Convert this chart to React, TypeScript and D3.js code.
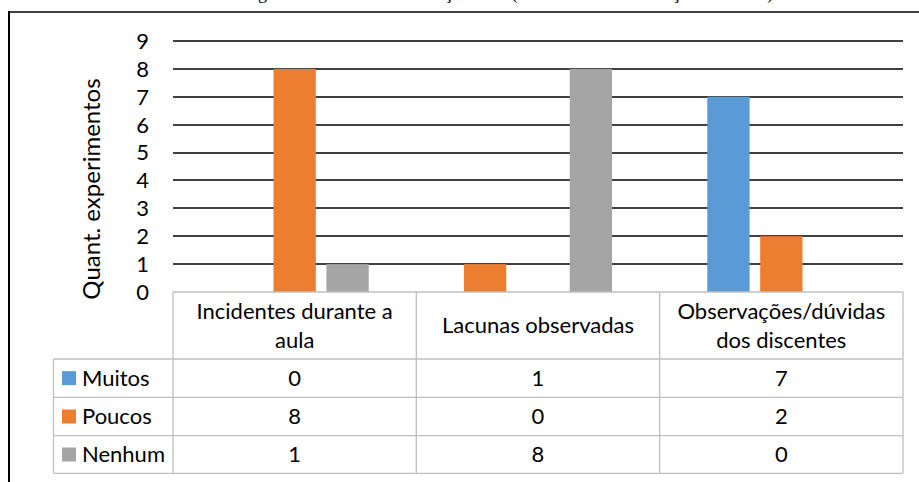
import React from "react";
import * as d3 from "d3";

const categories = ["Incidentes durante a aula", "Lacunas observadas", "Observações/dúvidas dos discentes"];
const categoryLines = [["Incidentes durante a", "aula"], ["Lacunas observadas"], ["Observações/dúvidas", "dos discentes"]];
const seriesNames = ["Muitos", "Poucos", "Nenhum"];
const muitos = [0, 1, 7];
const poucos = [8, 0, 2];
const nenhum = [1, 8, 0];
const yTicks = [0, 1, 2, 3, 4, 5, 6, 7, 8, 9];
const colors = ["#5B9BD5", "#ED7D31", "#A5A5A5"];
// individual data point drawn with a different colour in the original (Muitos / Lacunas observadas)
const pointColorOverrides = [{ series: "Muitos", category: "Lacunas observadas", color: "#ED7D31" }];
const titleText = "Figura 7 – Análise da avaliação final (resultados da observação das aulas)";

const FONT = "Lato, 'Open Sans', sans-serif";

export default function App() {
  const W = 919, H = 482;
  const plotL = 173, plotR = 903, y0 = 292, y9 = 41;
  const y = d3.scaleLinear().domain([0, 9]).range([y0, y9]);
  const x0 = d3.scaleBand().domain(categories).range([plotL, plotR]);
  const x1 = d3.scaleBand().domain(seriesNames).range([0, x0.bandwidth()]).paddingInner(0.2).paddingOuter(0.9);
  const series = [muitos, poucos, nenhum];

  const headerBottom = 359;
  const rowBounds = [359, 397.3, 435.7, 473.3];
  const legendL = 53.5;
  const grey = "#BFBFBF";
  const fs = 22;

  const colorFor = (s: string, c: string, si: number) => {
    const o = pointColorOverrides.find(p => p.series === s && p.category === c);
    return o ? o.color : colors[si];
  };

  return (
    <svg width={W} height={H} style={{ position: "absolute", left: 0, top: 0, background: "#fff" }}>
      <rect x={0} y={0} width={W} height={H} fill="#fff" />
      <text x={243} y={-1} fontFamily="'Liberation Serif', serif" fontSize={18} fill="#000">{titleText}</text>
      {/* outer frame */}
      <line x1={8} x2={W} y1={12} y2={12} stroke="#000" strokeWidth={1.6} />
      <line x1={9} x2={9} y1={11.2} y2={H} stroke="#000" strokeWidth={2} />

      {/* gridlines */}
      {yTicks.filter(t => t > 0).map(t => (
        <line key={t} x1={plotL} x2={plotR} y1={Math.round(y(t))} y2={Math.round(y(t))} stroke="#000" strokeWidth={1.6} />
      ))}
      {/* tick labels */}
      {yTicks.map(t => (
        <text key={t} x={149} y={y(t)} dy="0.36em" textAnchor="end" fontFamily={FONT} fontSize={fs} fill="#000">{t}</text>
      ))}
      <text transform={`translate(100,189) rotate(-90)`} textAnchor="middle" fontFamily={FONT} fontSize={24} fill="#000">Quant. experimentos</text>

      {/* bars */}
      {categories.map((c, ci) => (
        <g key={c}>
          {seriesNames.map((s, si) => {
            const v = series[si][ci];
            if (v <= 0) return null;
            return <rect key={s} x={(x0(c) as number) + (x1(s) as number)} y={y(v)} width={x1.bandwidth()} height={y(0) - y(v)} fill={colorFor(s, c, si)} />;
          })}
        </g>
      ))}

      {/* data table */}
      <g stroke={grey} strokeWidth={1.3} fill="none">
        <line x1={plotL} x2={plotR} y1={y0} y2={y0} />
        <line x1={legendL} x2={plotR} y1={headerBottom} y2={headerBottom} />
        {rowBounds.slice(1).map((b, i) => <line key={i} x1={legendL} x2={plotR} y1={b} y2={b} />)}
        <line x1={legendL} x2={legendL} y1={headerBottom} y2={rowBounds[3]} />
        {categories.map(c => <line key={c} x1={x0(c)} x2={x0(c)} y1={y0} y2={rowBounds[3]} />)}
        <line x1={plotR} x2={plotR} y1={y0} y2={rowBounds[3]} />
      </g>
      {categories.map((c, ci) => {
        const cx = (x0(c) as number) + x0.bandwidth() / 2;
        const lines = categoryLines[ci];
        const mid = (y0 + headerBottom) / 2;
        return lines.map((ln, li) => (
          <text key={c + li} x={cx} y={mid + (li - (lines.length - 1) / 2) * 29} dy="0.35em" textAnchor="middle" fontFamily={FONT} fontSize={fs} fill="#000">{ln}</text>
        ));
      })}
      {seriesNames.map((s, si) => {
        const cy = (rowBounds[si] + rowBounds[si + 1]) / 2;
        return (
          <g key={s}>
            <rect x={62} y={cy - 7} width={14} height={14} fill={colors[si]} />
            <text x={82} y={cy} dy="0.35em" fontFamily={FONT} fontSize={fs} fill="#000">{s}</text>
            {categories.map((c, ci) => (
              <text key={c} x={(x0(c) as number) + x0.bandwidth() / 2} y={cy} dy="0.35em" textAnchor="middle" fontFamily={FONT} fontSize={fs} fill="#000">{series[si][ci]}</text>
            ))}
          </g>
        );
      })}
    </svg>
  );
}
